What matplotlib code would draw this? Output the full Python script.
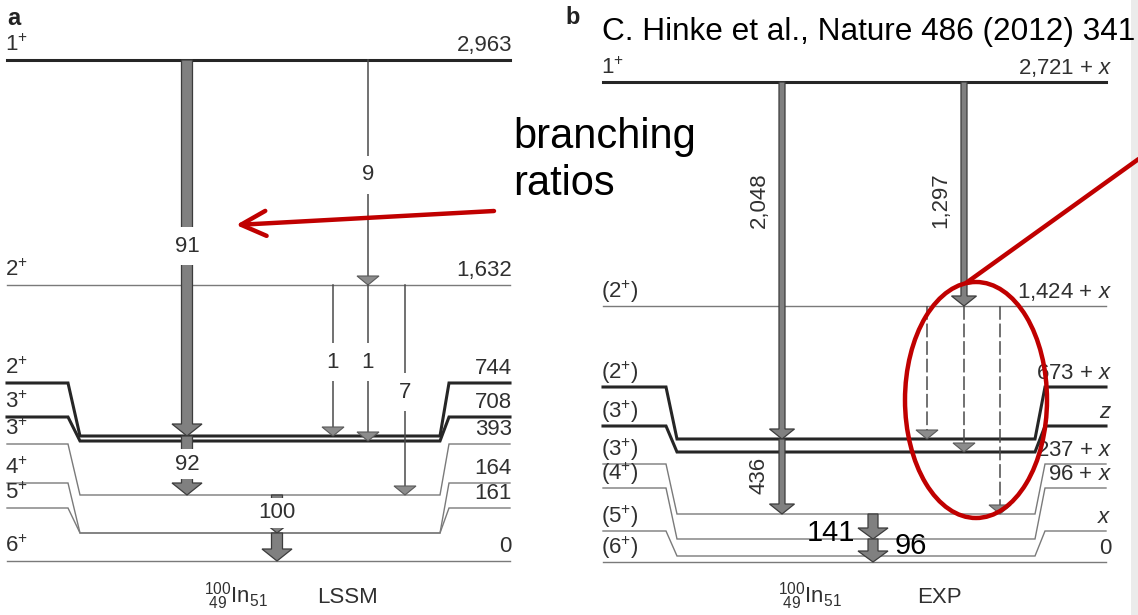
import matplotlib
matplotlib.use("Agg")
import matplotlib.pyplot as plt
from matplotlib.patches import Polygon, Ellipse, Rectangle

plt.rcParams['font.family'] = ['Liberation Sans', 'DejaVu Sans']
plt.rcParams['mathtext.fontset'] = 'custom'
plt.rcParams['mathtext.rm'] = 'Liberation Sans'
plt.rcParams['mathtext.it'] = 'Liberation Sans:italic'
plt.rcParams['mathtext.bf'] = 'Liberation Sans:bold'

# ---------------- data ----------------
# panel a : LSSM calculation
lssm_spins = ["1", "2", "2", "3", "3", "4", "5", "6"]
lssm_energies = ["2,963", "1,632", "744", "708", "393", "164", "161", "0"]
lssm_branch_labels = ["91", "9", "1", "1", "7", "92", "100", ""]
# panel b : experiment
exp_spins = ["1", "(2)", "(2)", "(3)", "(3)", "(4)", "(5)", "(6)"]
exp_energies = ["2,721 + $x$", "1,424 + $x$", "673 + $x$", "$z$", "237 + $x$",
                "96 + $x$", "$x$", "0"]
exp_gamma_labels = ["2,048", "1,297", "", "", "", "436", "", ""]
annotation_energies = ["141", "96"]
nucleus = "$^{100}_{\\ 49}$In$_{51}$"
panel_titles = ["LSSM", "EXP"]
citation = "C. Hinke et al., Nature 486 (2012) 341"
callout = "branching\nratios"

# ---------------- layout (pixel positions) ----------------
W, H = 1138, 615
fig = plt.figure(figsize=(W / 100, H / 100), dpi=100)
ax = fig.add_axes([0, 0, 1, 1])
ax.set_xlim(0, W)
ax.set_ylim(H, 0)
ax.axis('off')

DARK = '#262626'
THIN = '#7a7a7a'
TXT = '#303030'
RED = '#c00000'

# x breakpoints: left side end, middle start, middle end, right side start
lay_a = dict(x=(7, 68, 80, 440, 449, 510),
             side=[60, 285, 383, 417, 444, 483, 508, 561],
             mid=[60, 285, 436, 441, 495, 533, 533, 561],
             style=['top', 'thin', 'thick', 'thick', 'thin', 'thin', 'thin', 'thin'],
             base=9, rpad=2)
lay_b = dict(x=(603, 666, 677, 1035, 1045, 1106),
             side=[82, 306, 387, 426, 464, 488, 531, 562],
             mid=[82, 306, 439, 452, 514, 539, 556, 562],
             style=['top', 'thin', 'thick', 'thick', 'thin', 'thin', 'thin', 'thin'],
             base=8, rpad=6)

LW = {'top': 2.2, 'thick': 2.2, 'thin': 1.0}
COL = {'top': DARK, 'thick': DARK, 'thin': THIN}
FS = 16


def draw_levels(spins, energies, lay, paren):
    x0, x1, x2, x3, x4, x5 = lay['x']
    for i, (sp, en) in enumerate(zip(spins, energies)):
        ys, ym = lay['side'][i], lay['mid'][i]
        st = lay['style'][i]
        if ys == ym:
            xs, yv = [x0, x5], [ys, ys]
        else:
            xs = [x0, x1, x2, x3, x4, x5]
            yv = [ys, ys, ym, ym, ys, ys]
        ax.plot(xs, yv, color=COL[st], lw=LW[st], solid_joinstyle='miter', zorder=2)
        if paren and sp.startswith('('):
            lab = '(' + sp[1:-1] + '$^{+}$)'
        else:
            lab = sp + '$^{+}$'
        ax.text(x0 - 2, ys - lay['base'], lab, fontsize=FS, color=TXT,
                ha='left', va='baseline', zorder=5)
        ax.text(x5 + lay['rpad'], ys - lay['base'], en, fontsize=FS, color=TXT,
                ha='right', va='baseline', zorder=5)


def block_arrow(x, y0, y1, w, hw, hl, fc='#808080', ec='#3c3c3c'):
    pts = [(x - w / 2, y0), (x - w / 2, y1 - hl), (x - hw / 2, y1 - hl), (x, y1),
           (x + hw / 2, y1 - hl), (x + w / 2, y1 - hl), (x + w / 2, y0)]
    ax.add_patch(Polygon(pts, closed=True, fc=fc, ec=ec, lw=0.9, zorder=3))


def thin_arrow(x, y0, y1, dashed=False):
    hl, hw = 9, 22
    ax.plot([x, x], [y0, y1 - hl], color='#4a4a4a', lw=1.1,
            ls=(0, (9, 2.5)) if dashed else '-', zorder=3)
    ax.add_patch(Polygon([(x - hw / 2, y1 - hl), (x, y1), (x + hw / 2, y1 - hl)],
                         closed=True, fc='#8c8c8c', ec='#5a5a5a', lw=0.8, zorder=3))


def gap_label(x, y, s, pad=0.45):
    ax.text(x, y, s, fontsize=FS, color=TXT, ha='center', va='center', zorder=6,
            bbox=dict(boxstyle='square,pad=%g' % pad, fc='white', ec='none'))


draw_levels(lssm_spins, lssm_energies, lay_a, paren=False)
draw_levels(exp_spins, exp_energies, lay_b, paren=True)

# ---- panel a transitions: (x, from, to, kind, label, label_y)
ma = lay_a['mid']
trans_a = [
    (187, 0, 2, 'thick', lssm_branch_labels[0], 246),
    (368, 0, 1, 'thin', lssm_branch_labels[1], 175),
    (333, 1, 2, 'thin', lssm_branch_labels[2], 362),
    (368, 1, 3, 'thin', lssm_branch_labels[3], 362),
    (405, 1, 4, 'thin', lssm_branch_labels[4], 392),
    (187, 2, 4, 'thick', lssm_branch_labels[5], 464),
    (277, 4, 5, 'thick', lssm_branch_labels[6], 513),
    (277, 5, 7, 'thick', lssm_branch_labels[7], None),
]
for x, f, t, kind, lab, ly in trans_a:
    if kind == 'thick':
        block_arrow(x, ma[f], ma[t], 11, 30, 12)
    else:
        thin_arrow(x, ma[f], ma[t])
    if ly is not None and lab:
        pad = 0.4 if ly < 400 else 0.2
        gap_label(x, ly, lab, pad)

# ---- panel b transitions
mb = lay_b['mid']
trans_b = [
    (782, 0, 2, 'medium', exp_gamma_labels[0], 200),
    (964, 0, 1, 'medium', exp_gamma_labels[1], 200),
    (927, 1, 2, 'dashed', '', None),
    (964, 1, 3, 'dashed', '', None),
    (1000, 1, 4, 'dashed', '', None),
    (782, 2, 4, 'medium', exp_gamma_labels[5], 475),
    (873, 4, 5, 'thick', '', None),
    (873, 5, 7, 'thick', '', None),
]
for x, f, t, kind, lab, ly in trans_b:
    if kind == 'medium':
        block_arrow(x, mb[f], mb[t], 6, 25, 10)
    elif kind == 'thick':
        block_arrow(x, mb[f], mb[t], 10, 30, 11)
    else:
        thin_arrow(x, mb[f], mb[t], dashed=True)
    if ly is not None and lab:
        ax.text(x - 23, ly, lab, fontsize=FS, color=TXT, rotation=90,
                ha='center', va='center', zorder=6)

# black energy annotations
ax.text(831, 533, annotation_energies[0], fontsize=21, color='black',
        ha='center', va='center', zorder=7)
ax.text(911, 546, annotation_energies[1], fontsize=21, color='black',
        ha='center', va='center', zorder=7)

# panel letters and captions
ax.text(7, 25, 'a', fontsize=17, fontweight='bold', color='#222222', ha='left', va='baseline')
ax.text(565, 24, 'b', fontsize=17, fontweight='bold', color='#222222', ha='left', va='baseline')
ax.text(236, 603, nucleus, fontsize=16, color=TXT, ha='center', va='baseline')
ax.text(348, 603, panel_titles[0], fontsize=16, color=TXT, ha='center', va='baseline')
ax.text(810, 603, nucleus, fontsize=16, color=TXT, ha='center', va='baseline')
ax.text(939, 603, panel_titles[1], fontsize=16, color=TXT, ha='center', va='baseline')

# citation and callout
ax.text(602, 40, citation, fontsize=22.7, color='black', ha='left', va='baseline')
ax.text(513, 195, callout, fontsize=30, color='black', ha='left', va='baseline',
        linespacing=1.22)

# red annotations
ax.annotate('', xy=(236, 225), xytext=(494, 211),
            arrowprops=dict(arrowstyle='->,head_length=0.9,head_width=0.45',
                            color=RED, lw=3.2, mutation_scale=20,
                            shrinkA=0, shrinkB=0), zorder=8)
ax.plot([966, 1140], [283, 158], color=RED, lw=3.2, solid_capstyle='butt', zorder=8)
ax.add_patch(Ellipse((976, 400), 142, 236, fill=False, ec=RED, lw=3.2, zorder=8))

# light grey strip at right edge
ax.add_patch(Rectangle((1131, 0), 10, H, fc='#ebebeb', ec='none', zorder=0))

fig.savefig('out.png', dpi=100)
